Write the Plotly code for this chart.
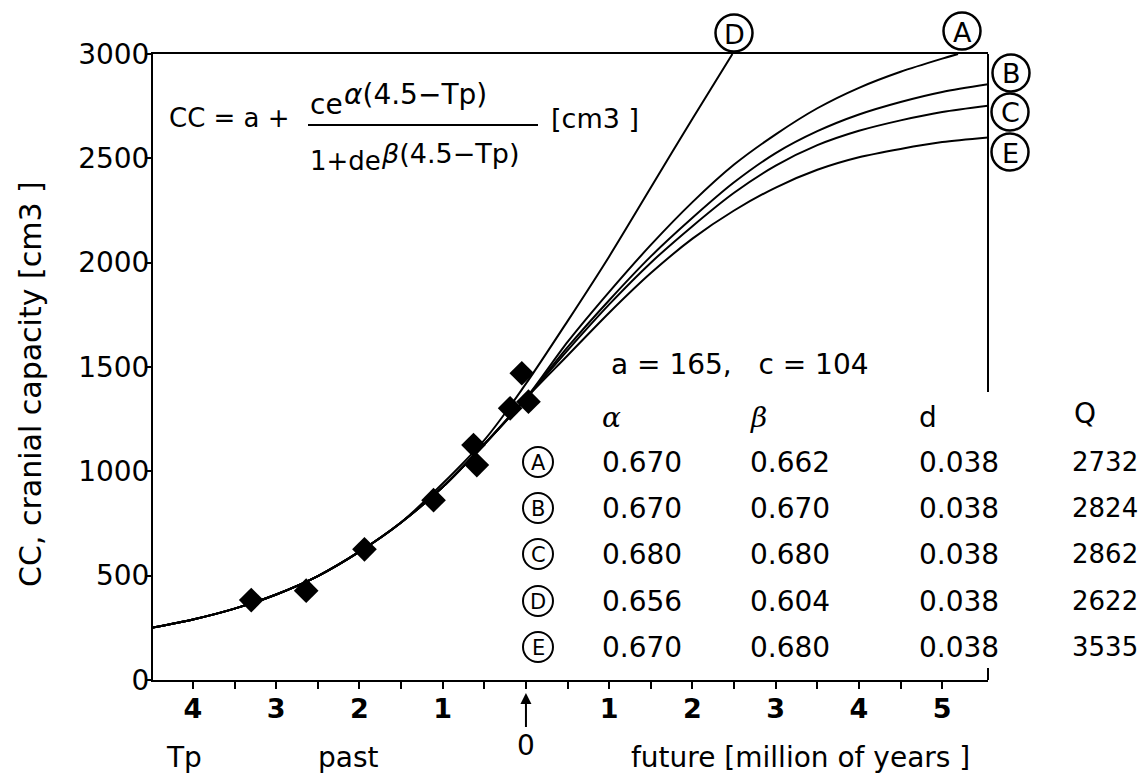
import plotly.graph_objects as go

# ---------------- data ----------------
# x: time in million of years, past negative (Tp), future positive
past_x = [-4.5, -4.0, -3.5, -3.0, -2.5, -2.0, -1.5, -1.0, -0.5, 0.0]
past_cc = [250, 290, 342, 410, 498, 615, 755, 925, 1130, 1350]

fut_x = [0.5, 1.0, 1.5, 2.0, 2.5, 3.0, 3.5, 4.0, 4.5, 5.0, 5.55]
curve_A_x = [0.5, 1.0, 1.5, 2.0, 2.5, 3.0, 3.5, 4.0, 4.5, 5.0, 5.19]
curve_A = [1620, 1860, 2085, 2290, 2470, 2615, 2740, 2838, 2915, 2978, 3000]
curve_B = [1595, 1820, 2030, 2215, 2385, 2525, 2630, 2710, 2770, 2818, 2855]
curve_C = [1580, 1800, 2000, 2175, 2335, 2465, 2563, 2632, 2682, 2722, 2752]
curve_E = [1555, 1760, 1950, 2115, 2250, 2360, 2445, 2505, 2545, 2578, 2600]
curve_D_x = [-0.5, 0.0, 0.5, 1.0, 1.5, 2.0, 2.48]
curve_D = [1150, 1420, 1720, 2030, 2360, 2690, 3000]

# fossil data points (diamonds)
pts_x = [-3.30, -2.64, -1.94, -1.11, -0.63, -0.59, -0.05, -0.19, 0.03]
pts_cc = [383, 428, 626, 862, 1126, 1030, 1470, 1302, 1334]

# table
a_val, c_val = 165, 104
rows = ["A", "B", "C", "D", "E"]
alpha_vals = ["0.670", "0.670", "0.680", "0.656", "0.670"]
beta_vals = ["0.662", "0.670", "0.680", "0.604", "0.680"]
d_vals = ["0.038", "0.038", "0.038", "0.038", "0.038"]
q_vals = ["2732", "2824", "2862", "2622", "3535"]

y_ticks = [0, 500, 1000, 1500, 2000, 2500, 3000]
x_tickvals = [-4, -3.5, -3, -2.5, -2, -1.5, -1, -0.5, 0, 0.5, 1, 1.5, 2, 2.5, 3, 3.5, 4, 4.5, 5]
x_ticktext = ["4", "", "3", "", "2", "", "1", "", "", "", "1", "", "2", "", "3", "", "4", "", "5"]

# ---------------- layout geometry (page pixels; page body has an 8px margin) ----------------
OFF = 8
W, H = 1146 - 2 * OFF, 781 - 2 * OFF
L, R, T, B = 153, 988, 54, 680          # plot area in page pixels
FONT = "DejaVu Sans"


def px(xp):
    return (xp - L) / (R - L)


def py(yp):
    return (B - yp) / (B - T)


fig = go.Figure()
line_style = dict(color="black", width=2, shape="spline", smoothing=0.8)

for xs, ys in [
    (past_x + curve_A_x, past_cc + curve_A),
    (past_x + fut_x, past_cc + curve_B),
    (past_x + fut_x, past_cc + curve_C),
    (past_x + fut_x, past_cc + curve_E),
    (past_x[:7] + curve_D_x, past_cc[:7] + curve_D),
]:
    fig.add_trace(go.Scatter(x=xs, y=ys, mode="lines", line=line_style,
                             hoverinfo="skip", showlegend=False))

fig.add_trace(go.Scatter(x=pts_x, y=pts_cc, mode="markers",
                         marker=dict(symbol="diamond", size=19, color="black"),
                         showlegend=False))

ann = []
shapes = []


def txt(t, xp, yp, size=28, xanchor="left", family=FONT, **kw):
    ann.append(dict(text=t, x=px(xp), y=py(yp), xref="paper", yref="paper",
                    xanchor=xanchor, yanchor="middle", showarrow=False,
                    font=dict(family=family, size=size, color="black"), **kw))


def circled(letter, cx, cy, d, size, lw=2.5):
    r = d / 2
    shapes.append(dict(type="circle", xref="paper", yref="paper",
                       x0=px(cx - r), x1=px(cx + r), y0=py(cy + r), y1=py(cy - r),
                       line=dict(color="black", width=lw)))
    txt(letter, cx, cy + 1, size=size, xanchor="center")


# formula
txt("CC = a +", 167, 118, size=26)
txt("ce", 308, 104, size=28)
txt("<i>α</i>(4.5−Tp)", 342, 94, size=28)
txt("1+de", 308, 161, size=26)
txt("<i>β</i>(4.5−Tp)", 379, 153, size=27)
txt("[cm3 ]", 549, 118, size=27)

# parameters
txt(f"a = {a_val},   c = {c_val}", 609, 364)
txt("<i>α</i>", 600, 417, family="DejaVu Serif")
txt("<i>β</i>", 748, 417, family="DejaVu Serif")
txt("d", 917, 417)
txt("Q", 1072, 413)
row_y = [462, 508, 554, 601, 647]
for lab, av, bv, dv, qv, yy in zip(rows, alpha_vals, beta_vals, d_vals, q_vals, row_y):
    circled(lab, 538, yy, 30, 21, lw=2)
    txt(av, 600, yy)
    txt(bv, 748, yy)
    txt(dv, 917, yy)
    txt(qv, 1070, yy, size=26)

# curve labels
for lab, xx, yy in [("D", 734, 33), ("A", 962, 31), ("B", 1011, 73),
                    ("C", 1010, 112), ("E", 1010, 152)]:
    circled(lab, xx, yy, 37, 27)

# y-axis title
txt("CC, cranial capacity [cm3 ]", 30, 384, size=30, xanchor="center", textangle=-90)

# bottom labels
txt("Tp", 184, 757, xanchor="center")
txt("past", 348, 757, xanchor="center")
txt("future [million of years ]", 800, 757, xanchor="center")

# arrow with 0
ann.append(dict(text="0", x=0, y=py(693), xref="x", yref="paper",
                ax=0, ay=52, showarrow=True, arrowhead=2, arrowsize=1.1,
                arrowwidth=2, arrowcolor="black",
                font=dict(family=FONT, size=28, color="black")))

shapes += [
    # fraction bar
    dict(type="line", xref="paper", yref="paper", x0=px(308), x1=px(538),
         y0=py(125), y1=py(125), line=dict(color="black", width=2)),
    # right partial frame line
    dict(type="line", xref="paper", yref="y", x0=1, x1=1, y0=1380, y1=3000,
         line=dict(color="black", width=2)),
    # small upward tick at right end of the x axis
    dict(type="line", xref="paper", yref="y", x0=1, x1=1, y0=0, y1=57,
         line=dict(color="black", width=2)),
]

fig.update_layout(
    width=W, height=H,
    margin=dict(l=L - OFF, r=W - (R - OFF), t=T - OFF, b=H - (B - OFF), pad=0),
    paper_bgcolor="white", plot_bgcolor="white",
    annotations=ann, shapes=shapes,
    font=dict(family=FONT, size=28, color="black"),
    xaxis=dict(range=[-4.48, 5.55], showgrid=False, zeroline=False,
               showline=True, linecolor="black", linewidth=2, mirror=True,
               ticks="outside", ticklen=7, tickwidth=2, tickcolor="black",
               tickvals=x_tickvals, ticktext=x_ticktext, ticklabelstandoff=-3,
               tickfont=dict(family=FONT, size=27, color="black", weight="bold")),
    yaxis=dict(range=[0, 3000], showgrid=False, zeroline=False,
               showline=True, linecolor="black", linewidth=2,
               ticks="outside", ticklen=6, tickwidth=2, tickcolor="black",
               tickvals=y_ticks, ticktext=[str(v) for v in y_ticks],
               ticklabelstandoff=-10,
               tickfont=dict(family=FONT, size=28, color="black")),
)

fig.write_html("out.html")
